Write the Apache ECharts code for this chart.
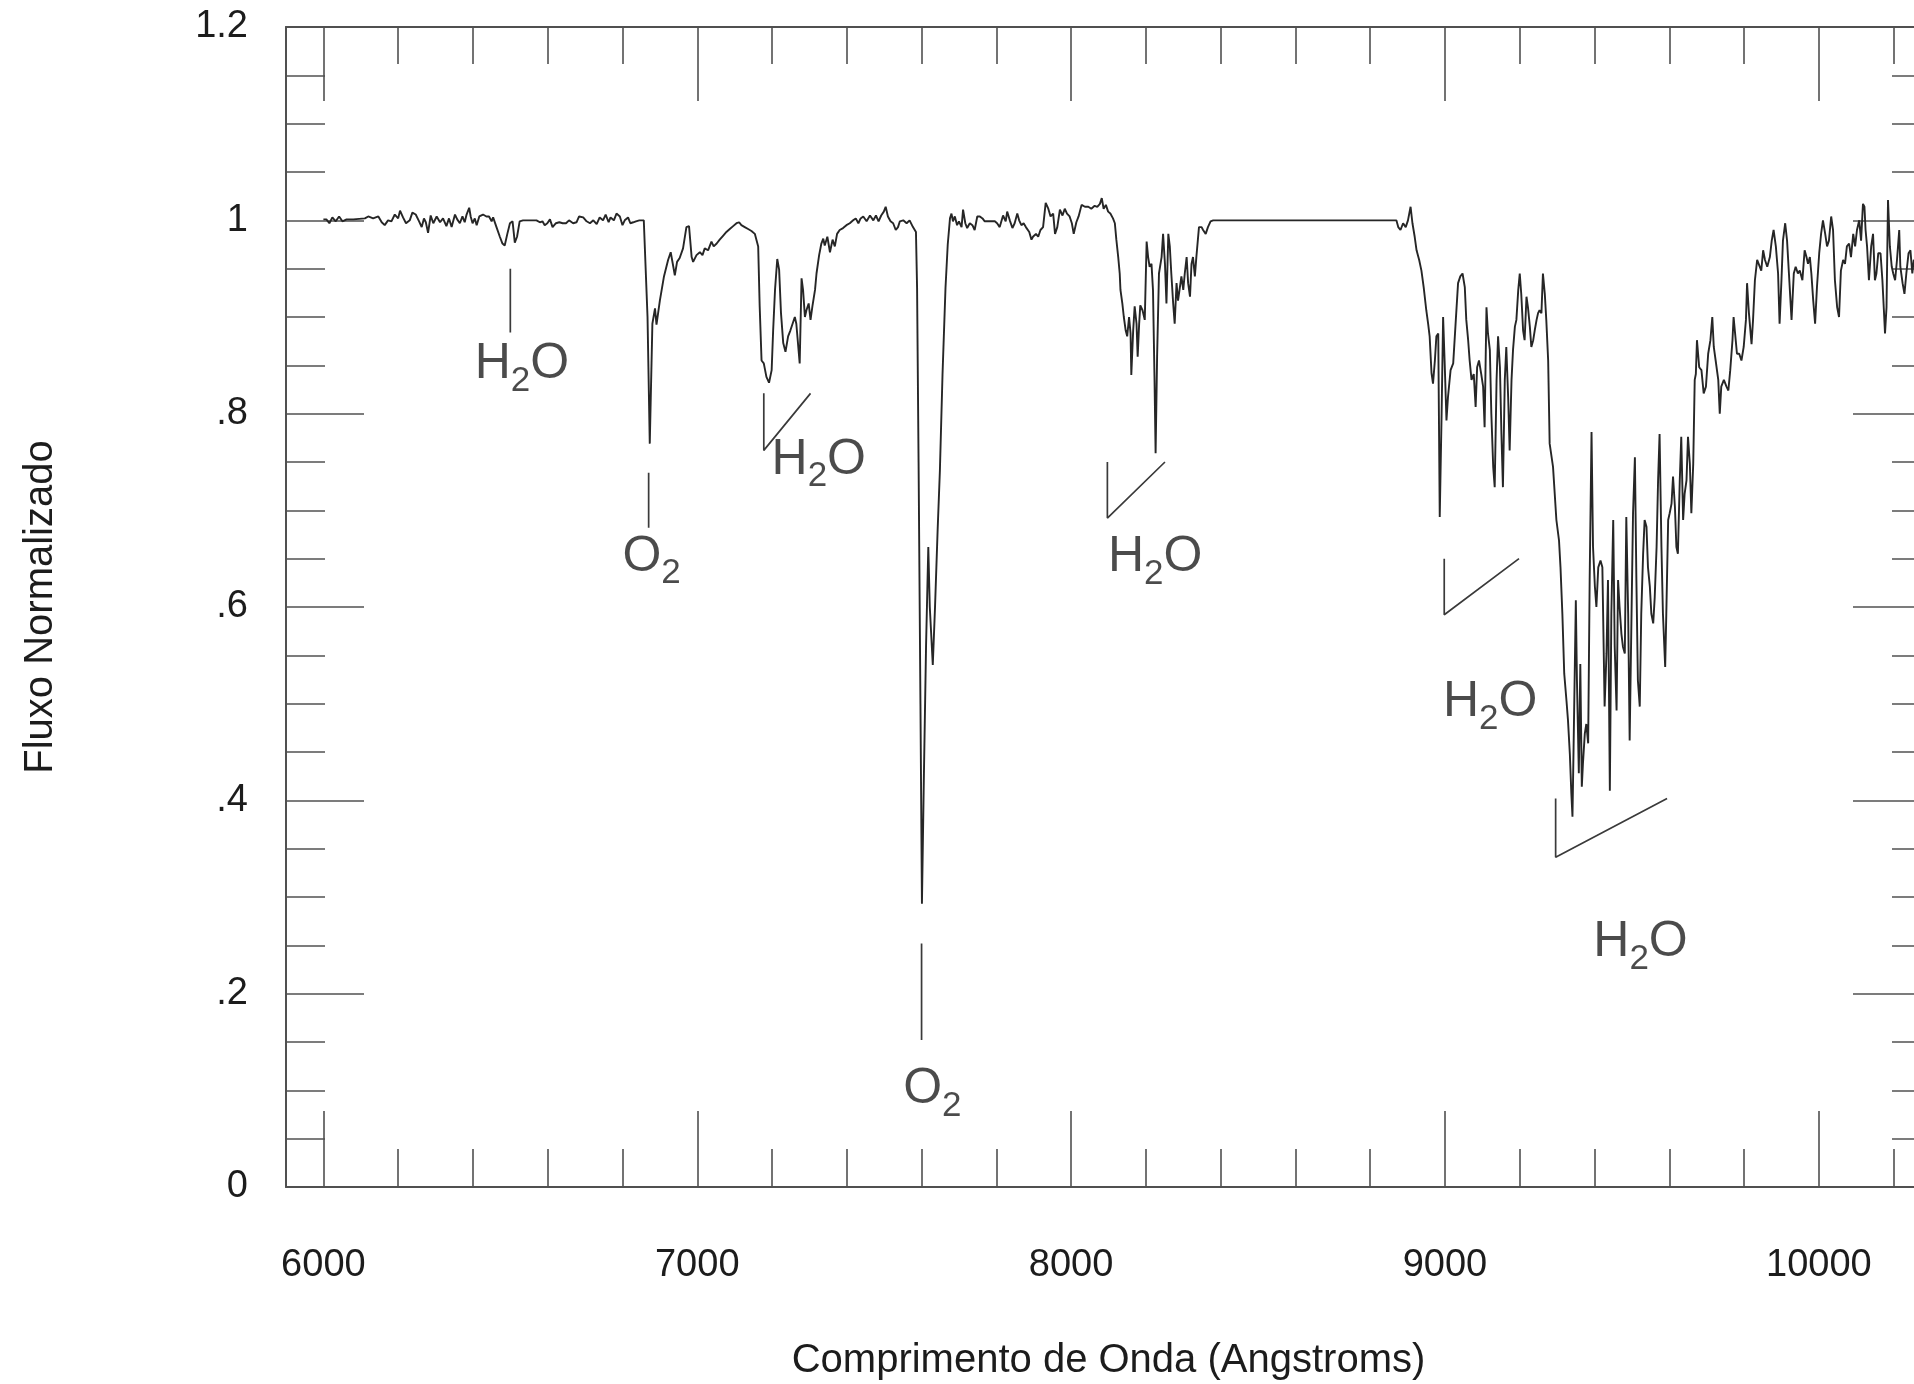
<!DOCTYPE html>
<html><head><meta charset="utf-8">
<script src="https://cdn.jsdelivr.net/npm/echarts@6/dist/echarts.min.js"></script>
<style>html,body{margin:0;padding:0;background:#fff}#c{width:1914px;height:1384px}</style>
</head><body><div id="c"></div>
<script>
// ---- spectrum, [wavelength (Å), normalized flux] ----
const spectrumVisible = [[6000,1.001],[6008,1.001],[6016,0.997],[6024,1.003],[6033,0.999],[6042,1.004],[6051,0.999],[6062,1.001],[6080,1.001],[6111,1.002],[6120,1.004],[6133,1.002],[6147,1.004],[6156,0.998],[6164,0.995],[6173,1.000],[6182,0.999],[6191,1.006],[6200,1.002],[6205,1.010],[6213,1.003],[6221,0.997],[6231,1.000],[6238,1.008],[6247,1.006],[6256,0.999],[6263,0.993],[6269,1.002],[6274,0.998],[6280,0.987],[6287,1.005],[6294,0.997],[6303,1.004],[6312,0.998],[6320,1.002],[6329,0.994],[6336,1.002],[6343,0.993],[6352,1.006],[6358,1.001],[6365,0.997],[6372,1.004],[6378,0.998],[6383,1.006],[6390,1.013],[6394,1.004],[6399,0.997],[6405,1.002],[6410,0.995],[6417,1.004],[6427,1.006],[6436,1.004],[6443,1.004],[6450,0.999],[6454,1.003],[6463,0.993],[6472,0.983],[6479,0.976],[6485,0.974],[6492,0.986],[6499,0.997],[6506,0.999],[6512,0.977],[6518,0.983],[6525,0.999],[6534,1.000],[6570,1.000],[6579,0.998],[6586,0.999],[6592,0.995],[6599,0.997],[6606,1.001],[6613,0.993],[6622,0.997],[6631,0.998],[6640,0.997],[6649,0.997],[6657,1.000],[6668,0.997],[6677,0.998],[6684,1.004],[6695,1.003],[6704,0.999],[6713,0.997],[6722,1.000],[6731,0.996],[6739,1.003],[6748,1.000],[6755,1.006],[6763,0.998],[6768,1.003],[6777,1.000],[6784,1.007],[6793,1.004],[6800,0.995],[6806,1.000],[6815,1.003],[6821,0.997],[6829,0.998],[6836,0.999],[6845,1.000],[6857,1.000],[6862,0.999]];
const spectrumBBand = [[6867,0.900],[6873,0.769],[6880,0.893],[6887,0.909],[6891,0.892],[6900,0.917],[6911,0.942],[6922,0.959],[6929,0.967],[6936,0.952],[6940,0.943],[6946,0.957],[6953,0.961],[6962,0.971],[6971,0.993],[6978,0.994],[6985,0.962],[6989,0.957],[6998,0.964],[7007,0.967],[7014,0.964],[7020,0.971],[7029,0.969],[7038,0.978],[7044,0.973],[7052,0.976],[7060,0.980],[7069,0.984],[7078,0.988],[7087,0.991],[7096,0.994],[7105,0.997],[7112,0.998],[7118,0.995],[7127,0.993],[7136,0.991],[7145,0.989],[7154,0.986],[7159,0.988],[7163,0.973],[7167,0.911],[7172,0.855],[7178,0.852],[7185,0.838],[7192,0.832],[7199,0.845],[7203,0.886],[7208,0.928],[7214,0.960],[7219,0.949],[7224,0.904],[7230,0.873],[7236,0.864],[7243,0.880],[7249,0.886],[7255,0.893],[7261,0.900],[7265,0.893],[7270,0.895],[7274,0.852],[7279,0.940],[7283,0.928],[7288,0.900],[7292,0.907],[7298,0.914],[7303,0.897],[7308,0.911],[7315,0.928],[7319,0.945],[7326,0.964],[7332,0.976],[7337,0.981],[7341,0.974],[7348,0.983],[7355,0.967],[7362,0.980],[7368,0.973],[7374,0.986],[7381,0.990],[7390,0.992],[7399,0.995],[7408,0.997],[7417,1.000],[7424,1.002],[7431,0.997],[7437,1.002],[7444,1.004],[7453,0.999],[7462,1.005],[7471,1.000],[7478,1.005],[7485,0.999],[7492,1.005],[7499,1.009],[7504,1.014],[7510,1.004],[7517,0.999],[7524,0.997],[7531,0.990],[7537,0.993],[7542,0.999],[7551,1.000],[7560,0.997],[7568,1.000],[7577,0.993],[7585,0.988]];
const spectrumABand = [[7588,0.930],[7592,0.750],[7597,0.500],[7601,0.293],[7606,0.420],[7612,0.560],[7618,0.662],[7622,0.600],[7630,0.540],[7636,0.600],[7643,0.680],[7649,0.741],[7656,0.840],[7664,0.930],[7670,0.975],[7676,1.002]];
const spectrum8200 = [[7680,1.007],[7684,0.999],[7689,1.004],[7695,0.995],[7700,0.999],[7707,0.993],[7711,1.011],[7717,0.997],[7722,0.992],[7729,0.997],[7736,0.995],[7742,0.990],[7749,1.004],[7756,1.004],[7763,1.002],[7769,0.999],[7778,0.999],[7787,0.999],[7796,0.999],[7802,0.997],[7809,0.993],[7818,1.005],[7825,0.999],[7829,1.009],[7836,1.000],[7843,0.992],[7849,0.997],[7856,1.007],[7861,1.000],[7867,0.995],[7873,0.997],[7879,0.993],[7888,0.988],[7894,0.980],[7898,0.983],[7906,0.986],[7912,0.983],[7918,0.990],[7925,0.993],[7932,1.018],[7939,1.012],[7945,1.004],[7952,1.007],[7957,0.986],[7963,0.993],[7970,1.011],[7977,1.005],[7983,1.012],[7989,1.007],[7996,1.004],[8002,0.997],[8007,0.986],[8014,0.998],[8020,1.004],[8028,1.016],[8037,1.014],[8046,1.014],[8054,1.012],[8063,1.015],[8070,1.014],[8077,1.017],[8082,1.023],[8087,1.012],[8093,1.016],[8099,1.009],[8105,1.007],[8112,1.002],[8117,0.997],[8121,0.980],[8126,0.962],[8130,0.945],[8132,0.928],[8137,0.914],[8141,0.900],[8146,0.886],[8150,0.880],[8155,0.900],[8159,0.883],[8161,0.840],[8166,0.886],[8170,0.911],[8175,0.893],[8178,0.859],[8182,0.893],[8185,0.912],[8191,0.907],[8197,0.897],[8202,0.978],[8206,0.962],[8210,0.952],[8215,0.955],[8219,0.928],[8223,0.838],[8226,0.759],[8230,0.859],[8235,0.945],[8242,0.962],[8246,0.986],[8251,0.955],[8255,0.914],[8260,0.986],[8264,0.973],[8268,0.945],[8273,0.914],[8277,0.893],[8282,0.935],[8286,0.917],[8291,0.931],[8295,0.942],[8300,0.928],[8304,0.945],[8309,0.962],[8313,0.935],[8318,0.921],[8322,0.955],[8326,0.962],[8331,0.942],[8335,0.962],[8342,0.993],[8349,0.993],[8353,0.990],[8360,0.986],[8366,0.993],[8373,0.999],[8380,1.000]];
const spectrum9000 = [[8870,1.000],[8875,0.993],[8881,0.990],[8888,0.997],[8895,0.993],[8901,1.000],[8908,1.014],[8913,0.997],[8919,0.983],[8924,0.969],[8931,0.959],[8937,0.948],[8943,0.931],[8950,0.907],[8955,0.893],[8959,0.880],[8964,0.842],[8968,0.831],[8973,0.855],[8977,0.880],[8982,0.883],[8986,0.693],[8991,0.800],[8995,0.900],[8999,0.855],[9004,0.793],[9008,0.817],[9015,0.845],[9022,0.852],[9029,0.897],[9035,0.935],[9041,0.942],[9047,0.945],[9053,0.931],[9057,0.897],[9062,0.876],[9066,0.855],[9071,0.835],[9077,0.841],[9082,0.807],[9086,0.848],[9091,0.855],[9097,0.841],[9102,0.828],[9106,0.786],[9111,0.910],[9115,0.883],[9120,0.866],[9124,0.800],[9129,0.745],[9133,0.724],[9138,0.835],[9142,0.880],[9147,0.848],[9151,0.779],[9155,0.724],[9160,0.835],[9164,0.869],[9169,0.817],[9173,0.762],[9178,0.835],[9182,0.866],[9187,0.890],[9191,0.897],[9196,0.928],[9200,0.945],[9204,0.924],[9209,0.886],[9213,0.876],[9218,0.921],[9222,0.910],[9227,0.890],[9231,0.869],[9236,0.876],[9240,0.886],[9245,0.897],[9249,0.904],[9253,0.907],[9258,0.904],[9262,0.945],[9267,0.924],[9271,0.897],[9276,0.855],[9280,0.769]];
const spectrum9400 = [[9289,0.745],[9298,0.690],[9305,0.669],[9309,0.641],[9314,0.593],[9319,0.531],[9325,0.503],[9329,0.483],[9334,0.448],[9338,0.407],[9341,0.383],[9344,0.455],[9350,0.607],[9353,0.524],[9358,0.428],[9362,0.541],[9366,0.414],[9369,0.438],[9374,0.469],[9378,0.479],[9383,0.459],[9387,0.628],[9392,0.781],[9396,0.662],[9401,0.621],[9405,0.600],[9410,0.641],[9416,0.648],[9421,0.641],[9427,0.497],[9432,0.552],[9436,0.628],[9441,0.410],[9445,0.593],[9450,0.690],[9454,0.559],[9459,0.493],[9463,0.628],[9467,0.600],[9472,0.572],[9476,0.559],[9481,0.552],[9485,0.693],[9490,0.593],[9494,0.462],[9499,0.593],[9503,0.697],[9508,0.755],[9512,0.628],[9516,0.524],[9521,0.497],[9525,0.593],[9530,0.655],[9534,0.690],[9539,0.683],[9543,0.641],[9548,0.621],[9552,0.593],[9557,0.583],[9561,0.610],[9566,0.662],[9570,0.731],[9574,0.779],[9579,0.662],[9583,0.593],[9589,0.538],[9592,0.593],[9597,0.690],[9601,0.697],[9606,0.707],[9610,0.735],[9615,0.704],[9619,0.662],[9623,0.655],[9628,0.731],[9632,0.776],[9637,0.690],[9641,0.717],[9646,0.731],[9650,0.776],[9655,0.748],[9659,0.697],[9664,0.748],[9668,0.835]];
const spectrumRed = [[9671,0.841],[9674,0.876],[9680,0.848],[9686,0.845],[9692,0.821],[9698,0.828],[9704,0.862],[9710,0.876],[9715,0.900],[9719,0.869],[9724,0.855],[9731,0.835],[9735,0.800],[9739,0.828],[9746,0.835],[9753,0.828],[9758,0.824],[9763,0.845],[9769,0.876],[9772,0.900],[9776,0.883],[9781,0.862],[9787,0.862],[9793,0.855],[9799,0.869],[9805,0.897],[9808,0.935],[9813,0.904],[9820,0.872],[9824,0.897],[9829,0.938],[9835,0.959],[9840,0.959],[9846,0.948],[9851,0.969],[9856,0.959],[9862,0.952],[9869,0.962],[9874,0.979],[9879,0.990],[9885,0.973],[9891,0.945],[9895,0.893],[9900,0.938],[9904,0.979],[9910,0.997],[9915,0.979],[9920,0.945],[9927,0.897],[9933,0.945],[9938,0.952],[9944,0.945],[9949,0.948],[9956,0.938],[9962,0.969],[9967,0.962],[9971,0.955],[9976,0.962],[9980,0.945],[9985,0.917],[9990,0.893],[9995,0.931],[10001,0.966],[10006,0.986],[10011,1.000],[10017,0.986],[10022,0.973],[10027,0.979],[10033,1.004],[10038,0.990],[10043,0.938],[10049,0.910],[10054,0.900],[10059,0.948],[10065,0.959],[10070,0.955],[10075,0.973],[10081,0.976],[10086,0.962],[10092,0.986],[10097,0.973],[10102,0.990],[10108,1.000],[10113,0.979],[10118,1.017],[10122,1.014],[10125,0.990],[10129,0.973],[10134,0.938],[10140,0.973],[10145,0.986],[10150,0.938],[10154,0.945],[10159,0.966],[10165,0.966],[10170,0.938],[10174,0.907],[10177,0.883],[10181,0.910],[10185,1.021],[10190,0.973],[10195,0.952],[10199,0.945],[10204,0.938],[10209,0.959],[10215,0.990],[10218,0.952],[10224,0.935],[10229,0.924],[10234,0.945],[10240,0.966],[10245,0.969],[10250,0.945],[10254,0.959],[10262,0.955]];

// ---- band annotations ----
const bandNames      = ['H2O', 'O2',  'H2O', 'O2',  'H2O', 'H2O', 'H2O'];
const bandMarkX      = [6500,  6870,  7178,  7600,  8097,  8998,  9296];
const bandMarkTop    = [0.950, 0.739, 0.821, 0.252, 0.750, 0.650, 0.402];
const bandMarkBottom = [0.884, 0.682, 0.762, 0.152, 0.692, 0.592, 0.341];
const bandMarkEndX   = [null,  null,  7303,  null,  8251,  9198,  9594];
const bandLabelX     = [6531,  6878,  7325,  7629,  8225,  9121,  9523];
const bandLabelY     = [0.851, 0.652, 0.752, 0.101, 0.651, 0.501, 0.253];

// ---- axes ----
const xRange = [5900, 10300];
const yRange = [0, 1.2];
const xMajorTicks = [6000, 7000, 8000, 9000, 10000];
const xMajorLabels = ['6000', '7000', '8000', '9000', '10000'];
const xMinorTicks = [6200, 6400, 6600, 6800, 7200, 7400, 7600, 7800, 8200, 8400, 8600, 8800, 9200, 9400, 9600, 9800, 10200];
const yMajorTicks = [0, 0.2, 0.4, 0.6, 0.8, 1.0, 1.2];
const yMajorLabels = ['0', '.2', '.4', '.6', '.8', '1', '1.2'];
const yMinorTicks = [0.05, 0.1, 0.15, 0.25, 0.3, 0.35, 0.45, 0.5, 0.55, 0.65, 0.7, 0.75, 0.85, 0.9, 0.95, 1.05, 1.1, 1.15];
const xTitle = 'Comprimento de Onda (Angstroms)';
const yTitle = 'Fluxo Normalizado';

const FONT = '"Liberation Sans", Arial, Helvetica, sans-serif';
const AX = '#505050';
const TXT = '#1c1c1c';

const spectrum = [].concat(spectrumVisible, spectrumBBand, spectrumABand, spectrum8200, spectrum9000, spectrum9400, spectrumRed);

function lookupLabel(values, labels) {
  return function (v) {
    const i = values.findIndex(t => Math.abs(t - v) < 1e-9);
    return i >= 0 ? labels[i] : '';
  };
}

function axisCommon(extra) {
  return Object.assign({
    type: 'value', gridIndex: 0,
    splitLine: { show: false },
    axisLine: { show: false, onZero: false, lineStyle: { color: AX, width: 2 } },
    axisTick: { show: true, inside: true, lineStyle: { color: AX, width: 1.6 } },
    axisLabel: { show: false },
    axisPointer: { show: false }
  }, extra);
}

const xAxes = [
  axisCommon({
    position: 'bottom', min: xRange[0], max: xRange[1],
    axisLine: { show: true, onZero: false, lineStyle: { color: AX, width: 2 } },
    axisTick: { show: true, inside: true, length: 76, customValues: xMajorTicks, lineStyle: { color: AX, width: 1.6 } },
    axisLabel: { show: true, customValues: xMajorTicks, margin: 60, fontSize: 38, color: TXT, fontFamily: FONT,
      formatter: lookupLabel(xMajorTicks, xMajorLabels) },
    name: xTitle, nameLocation: 'middle', nameGap: 154,
    nameTextStyle: { fontSize: 40, color: TXT, fontFamily: FONT }
  }),
  axisCommon({ position: 'bottom', min: xRange[0], max: xRange[1],
    axisTick: { show: true, inside: true, length: 38, customValues: xMinorTicks, lineStyle: { color: AX, width: 1.6 } } }),
  axisCommon({ position: 'top', min: xRange[0], max: xRange[1],
    axisLine: { show: true, onZero: false, lineStyle: { color: AX, width: 2 } },
    axisTick: { show: true, inside: true, length: 74, customValues: xMajorTicks, lineStyle: { color: AX, width: 1.6 } } }),
  axisCommon({ position: 'top', min: xRange[0], max: xRange[1],
    axisTick: { show: true, inside: true, length: 37, customValues: xMinorTicks, lineStyle: { color: AX, width: 1.6 } } })
];

const yAxes = [
  axisCommon({
    position: 'left', min: yRange[0], max: yRange[1],
    axisLine: { show: true, onZero: false, lineStyle: { color: AX, width: 2 } },
    axisTick: { show: true, inside: true, length: 78, customValues: yMajorTicks, lineStyle: { color: AX, width: 1.6 } },
    axisLabel: { show: true, customValues: yMajorTicks, margin: 38, fontSize: 38, color: TXT, fontFamily: FONT,
      formatter: lookupLabel(yMajorTicks, yMajorLabels) },
    name: yTitle, nameLocation: 'middle', nameGap: 225,
    nameTextStyle: { fontSize: 40, color: TXT, fontFamily: FONT }
  }),
  axisCommon({ position: 'left', min: yRange[0], max: yRange[1],
    axisTick: { show: true, inside: true, length: 39, customValues: yMinorTicks, lineStyle: { color: AX, width: 1.6 } } }),
  axisCommon({ position: 'right', min: yRange[0], max: yRange[1],
    axisLine: { show: true, onZero: false, lineStyle: { color: AX, width: 2 } },
    axisTick: { show: true, inside: true, length: 78, customValues: yMajorTicks, lineStyle: { color: AX, width: 1.6 } } }),
  axisCommon({ position: 'right', min: yRange[0], max: yRange[1],
    axisTick: { show: true, inside: true, length: 39, customValues: yMinorTicks, lineStyle: { color: AX, width: 1.6 } } })
];

const series = [{
  type: 'line', name: 'spectrum', data: spectrum, xAxisIndex: 0, yAxisIndex: 0,
  showSymbol: false, symbol: 'none', smooth: false, clip: true, z: 3,
  lineStyle: { color: '#262626', width: 1.9 }, silent: true
}];

bandMarkX.forEach(function (x, i) {
  const pts = [[x, bandMarkTop[i]], [x, bandMarkBottom[i]]];
  if (bandMarkEndX[i] != null) pts.push([bandMarkEndX[i], bandMarkTop[i]]);
  series.push({
    type: 'line', data: pts, xAxisIndex: 0, yAxisIndex: 0, showSymbol: false, symbol: 'none',
    lineStyle: { color: '#3a3a3a', width: 1.7 }, silent: true, z: 2
  });
});

function chemRich(name) {
  return name.replace(/([A-Za-z]+)|(\d+)/g, function (m, letters, digits) {
    return letters ? '{n|' + letters + '}' : '{s|' + digits + '}';
  });
}

series.push({
  type: 'scatter', xAxisIndex: 0, yAxisIndex: 0, symbolSize: 0, silent: true, z: 4,
  data: bandLabelX.map((x, i) => [x, bandLabelY[i], bandNames[i]]),
  label: {
    show: true, position: 'inside',
    formatter: p => chemRich(p.value[2]),
    rich: {
      n: { fontSize: 50, lineHeight: 68, color: '#1e1e1e', fontFamily: FONT },
      s: { fontSize: 35, lineHeight: 34, verticalAlign: 'bottom', color: '#1e1e1e', fontFamily: FONT }
    }
  }
});

const chart = echarts.init(document.getElementById('c'), null, { renderer: 'canvas' });
chart.setOption({
  backgroundColor: '#ffffff',
  animation: false,
  grid: { left: 286, top: 27, width: 1645, height: 1160, containLabel: false, outerBoundsMode: 'none' },
  xAxis: xAxes,
  yAxis: yAxes,
  series: series
});
</script>
</body></html>
